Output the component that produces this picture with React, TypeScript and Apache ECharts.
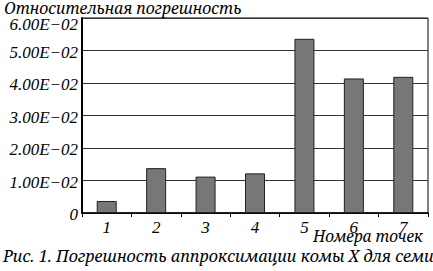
import React, { useEffect, useRef } from "react";
import * as echarts from "echarts";

const categories = ["1", "2", "3", "4", "5", "6", "7"];
const values = [0.0037, 0.0138, 0.0112, 0.0122, 0.0536, 0.0414, 0.0419];
const yTitle = "Относительная погрешность";
const xTitle = "Номера точек";
const caption = "Рис. 1. Погрешность аппроксимации комы X для семи";

const FONT = "Liberation Serif";
const CYR = "Noto Serif";

export default function App() {
  const ref = useRef<HTMLDivElement>(null);
  useEffect(() => {
    if (!ref.current) return;
    const chart = echarts.init(ref.current, undefined, { renderer: "svg" });
    chart.setOption({
      animation: false,
      backgroundColor: "#fff",
      grid: {
        left: 82,
        right: 5,
        top: 18,
        bottom: 58,
        show: true,
        borderColor: "#000",
        borderWidth: 1,
        backgroundColor: "transparent",
      },
      xAxis: {
        type: "category",
        data: categories,
        axisLine: { lineStyle: { color: "#000", width: 1.5 } },
        axisTick: { show: true, alignWithLabel: false, length: 4, lineStyle: { color: "#000" } },
        axisLabel: {
          color: "#000",
          fontFamily: FONT,
          fontStyle: "italic",
          fontSize: 17,
          margin: 6,
        },
      },
      yAxis: {
        type: "value",
        min: 0,
        max: 0.06,
        interval: 0.01,
        axisLine: { show: true, lineStyle: { color: "#000", width: 2 } },
        axisTick: { show: false },
        splitLine: { lineStyle: { color: "#333", width: 1 } },
        axisLabel: {
          color: "#000",
          fontFamily: FONT,
          fontStyle: "italic",
          fontSize: 17,
          margin: 4,
          formatter: (v: number) => {
            const s = v === 0 ? "0" : (v * 100).toFixed(2) + "E\u221202";
            return Math.abs(v - 0.06) < 1e-9 ? "{top|" + s + "}" : "{n|" + s + "}";
          },
          rich: {
            top: { fontFamily: FONT, fontStyle: "italic", fontSize: 17, color: "#000", padding: [12, 0, 0, 0] },
            n: { fontFamily: FONT, fontStyle: "italic", fontSize: 17, color: "#000", padding: [3, 0, 0, 0] },
          },
        },
      },
      series: [
        {
          type: "bar",
          data: values,
          barWidth: 20,
          itemStyle: { color: "#777", borderColor: "#222", borderWidth: 1 },
        },
      ],
      graphic: [
        {
          type: "text",
          left: 4,
          top: 0,
          style: { text: yTitle, fontFamily: CYR, fontStyle: "italic", fontSize: 15.8, fill: "#000" },
        },
        {
          type: "text",
          right: 10,
          top: 229,
          style: { text: xTitle, fontFamily: CYR, fontStyle: "italic", fontSize: 15.4, fill: "#000" },
        },
        {
          type: "text",
          left: 3,
          top: 248,
          style: { text: caption, fontFamily: CYR, fontStyle: "italic", fontSize: 16.2, fill: "#000" },
        },
      ],
    });
    return () => chart.dispose();
  }, []);
  return <div ref={ref} style={{ width: 433, height: 271, position: "absolute", left: 0, top: 0 }} />;
}
